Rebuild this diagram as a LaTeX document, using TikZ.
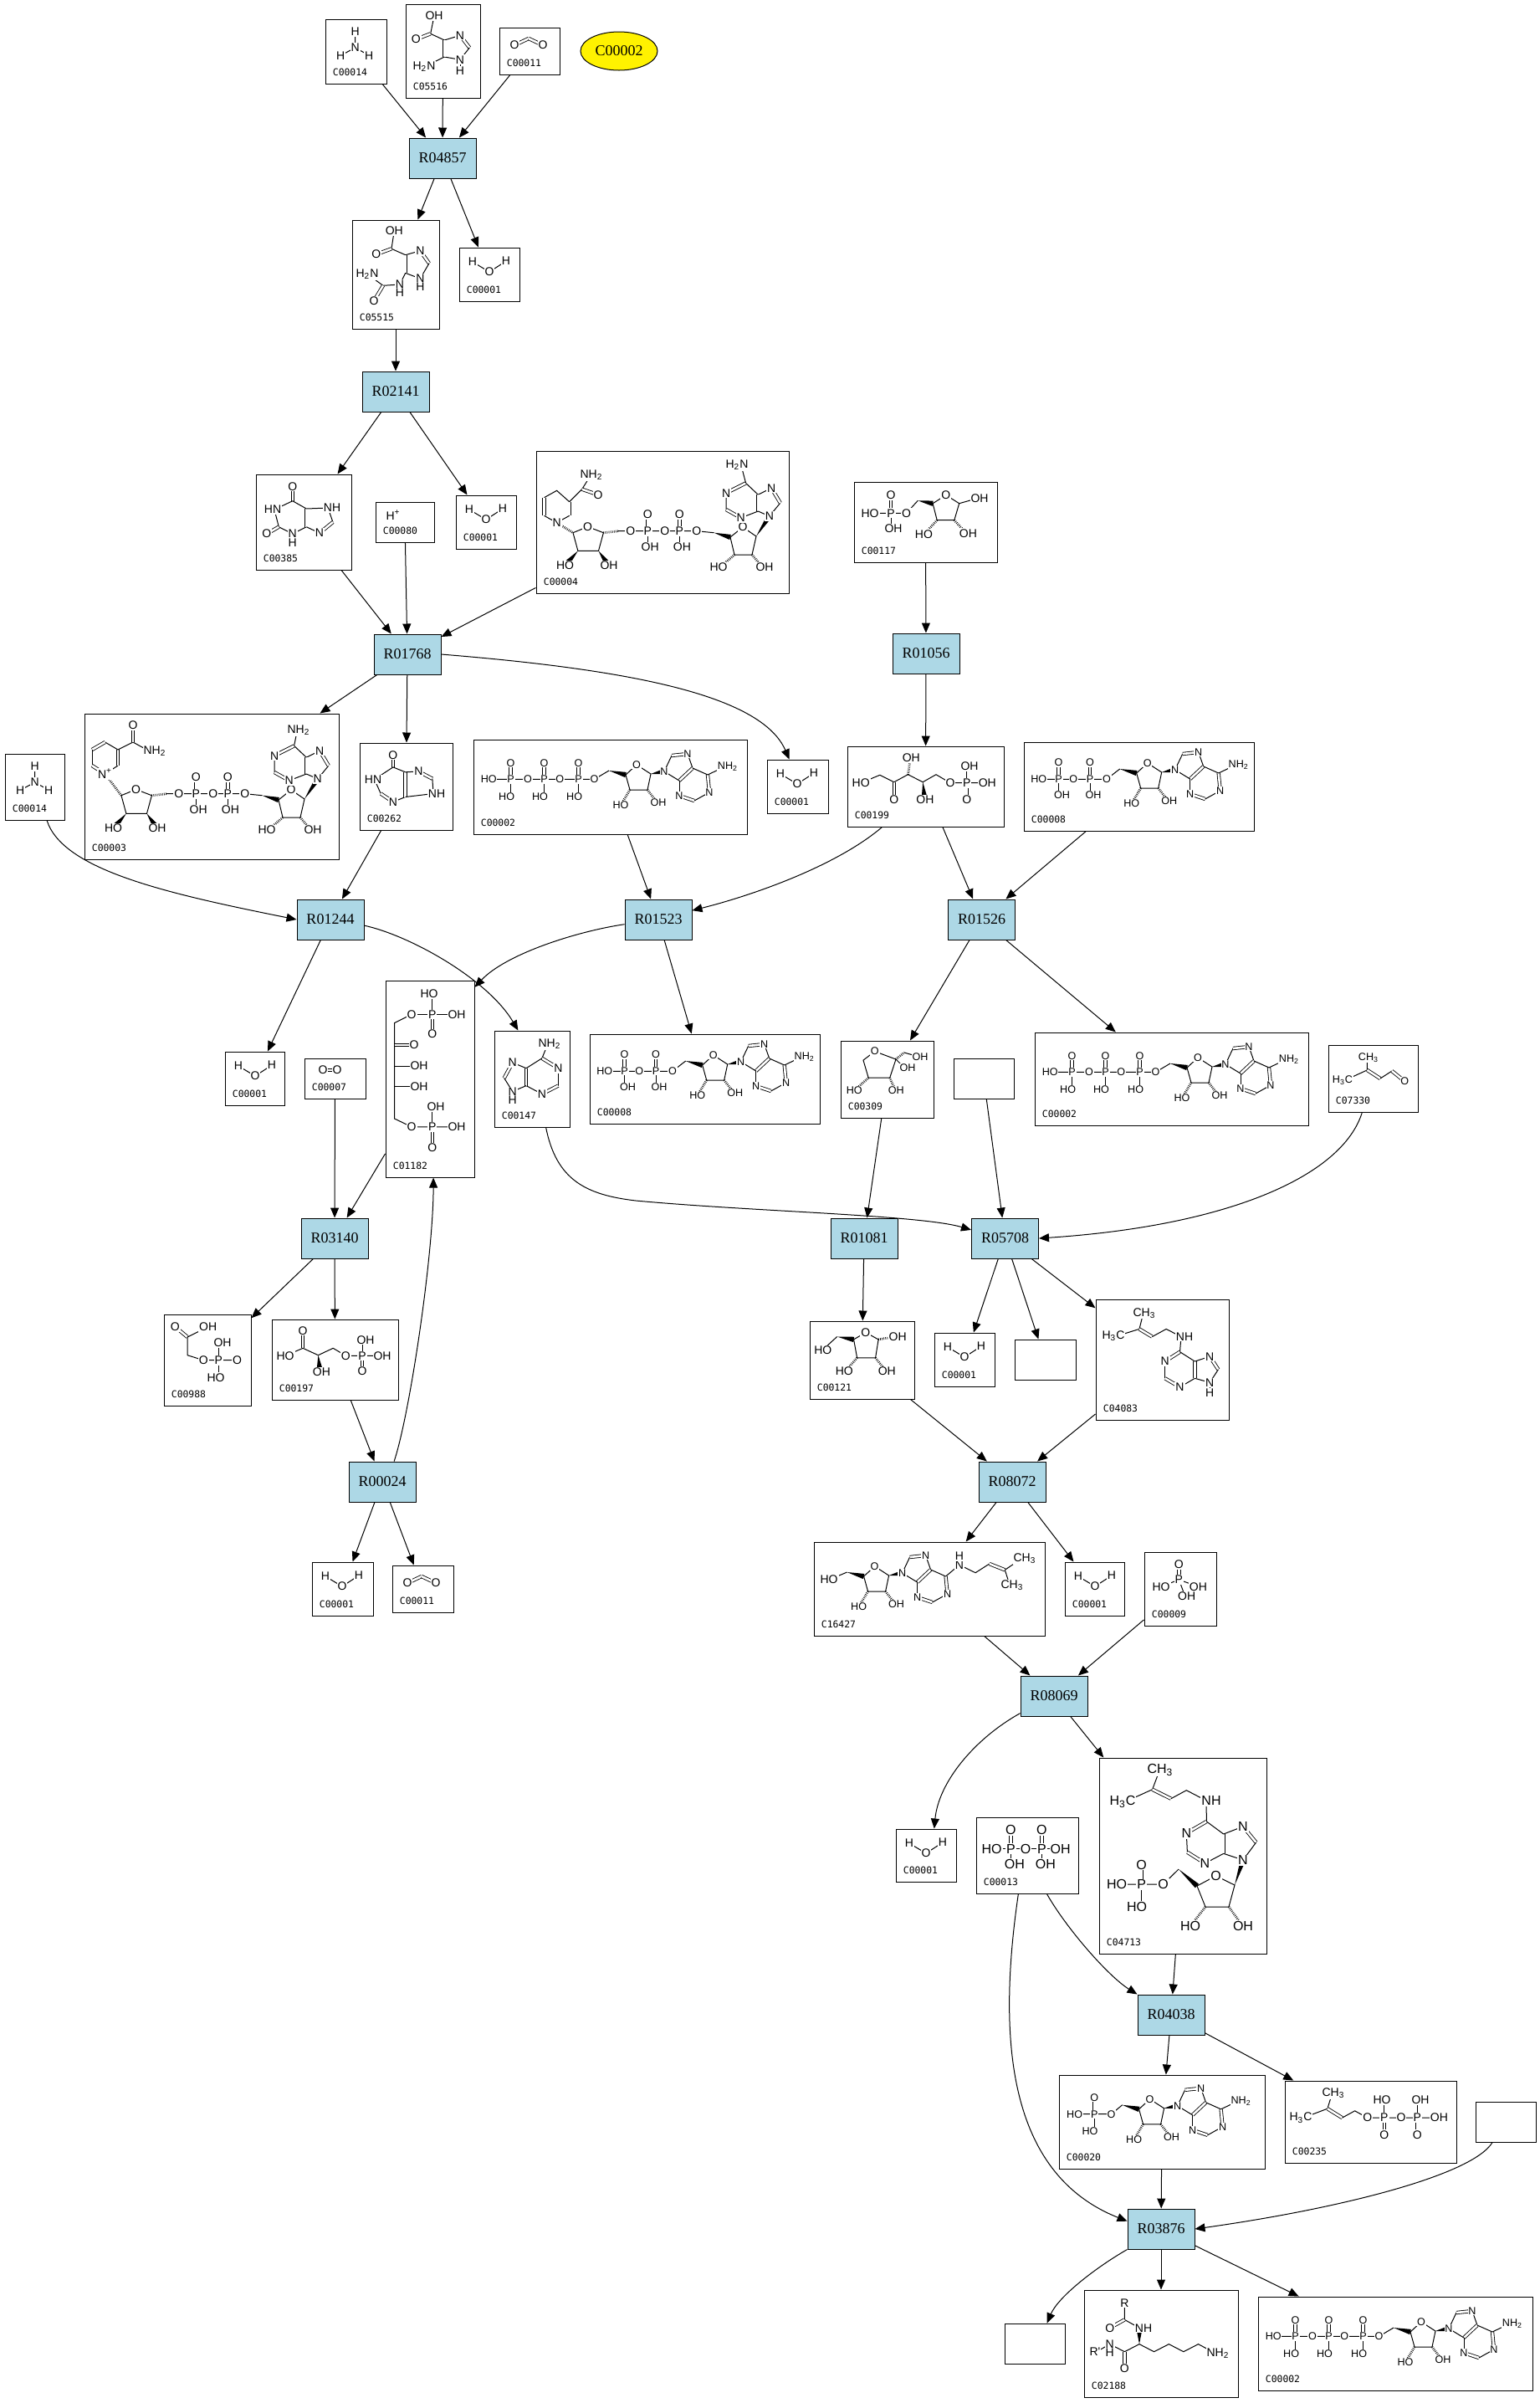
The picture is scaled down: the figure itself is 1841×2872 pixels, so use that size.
\documentclass[tikz,border=0pt]{standalone}
\usepackage{fontspec}
\setmainfont{Liberation Serif}
\newfontfamily\chemf{Liberation Sans}
\newfontfamily\monof{DejaVu Sans Mono}
\newfontfamily\serf{Liberation Serif}
\usetikzlibrary{arrows.meta,shapes.geometric,fit,calc}
\definecolor{rxnblue}{HTML}{ADD8E6}
\newcommand\afontL{\chemf\fontsize{7}{7}\selectfont}
\newcommand\afontS{\chemf\fontsize{6.3}{6.3}\selectfont}
\newcommand\afontB{\chemf\fontsize{8}{8}\selectfont}
\newcommand\idfont{\monof\fontsize{5.7}{5.7}\selectfont}
\newcommand\rfont{\serf\fontsize{9}{9}\selectfont}
\newcommand{\wdg}[2]{\fill ($(#1)$) -- ($(#2)!1.6pt!90:(#1)$) -- ($(#2)!1.6pt!-90:(#1)$) -- cycle;}
\newcommand{\cmp}[6]{\node[cbox, fit={(#2,#3) (#4,#5)}] (#1) {};\node[idl] at ([shift={(9,-10)}]#1.south west) {#6};}
\tikzset{
 cbox/.style={draw, line width=0.5pt, inner sep=0pt},
 rxn/.style={draw, line width=0.5pt, fill=rxnblue, minimum width=40pt, minimum height=24pt, inner sep=0pt, font=\rfont},
 idl/.style={font=\idfont, anchor=base west, inner sep=0pt},
 arr/.style={line width=0.5pt, -{Triangle[length=6pt,width=5pt]}},
 bd/.style={line width=0.5pt},
 db/.style={double, double distance=1.3pt, line width=0.42pt},
 hs/.style={line width=1.4pt, dash pattern=on 0.35pt off 0.7pt},
 atl/.style={font=\afontL, inner sep=0.5pt, fill=white},
 ats/.style={font=\afontS, inner sep=0.4pt, fill=white},
 atb/.style={font=\afontB, inner sep=0.5pt, fill=white},
}
\newcommand{\adocore}{%
  \wdg{0,0}{20,5}
  \draw[bd] (20,5) -- (33,-7) -- (50,4) -- (46,23) -- (25,23) -- cycle;
  \draw[hs] (25,23) -- (16,38);
  \draw[hs] (46,23) -- (56,36);
  \wdg{50,4}{66,1}
  \draw[bd] (66,1) -- (75,-18);
  \draw[db] (75,-18) -- (94,-20);
  \draw[bd] (94,-20) -- (100,-3);
  \draw[db] (100,-3) -- (84,12);
  \draw[bd] (84,12) -- (66,1);
  \draw[bd] (84,12) -- (84,30);
  \draw[db] (84,30) -- (102,36);
  \draw[bd] (102,36) -- (120,26);
  \draw[db] (120,26) -- (118,5);
  \draw[bd] (118,5) -- (100,-3);
  \node[ats] at (33,-7) {O};
  \node[ats] at (14,41) {HO};
  \node[ats] at (59,38) {OH};
  \node[ats] at (66,1) {N};
  \node[ats] at (94,-20) {N};
  \node[ats] at (84,30) {N};
  \node[ats] at (120,26) {N};
}
\tikzset{
 adoc/.pic={\adocore},
 ado/.pic={\adocore \draw[bd] (118,5) -- (137,-4); \node[ats] at (142,-5) {NH\textsubscript{2}};},
 water/.pic={\draw[bd] (16,17) -- (36,29) -- (56,16); \node[atl] at (16,17) {H}; \node[atl] at (36,29) {O}; \node[atl] at (56,16) {H};},
 ammonia/.pic={\draw[bd] (35.7,15) -- (35.7,34) -- (18.3,43.3); \draw[bd] (35.7,34) -- (52.3,43.3); \node[atl] at (35.7,15) {H}; \node[atl] at (35.7,34) {N}; \node[atl] at (18.3,43.3) {H}; \node[atl] at (52.3,43.3) {H};},
 cotwo/.pic={\draw[db] (18,21) -- (35,13); \draw[db] (35,13) -- (52,21); \node[atl] at (18,21) {O}; \node[atl] at (52,21) {O};},
 atp/.pic={
  \draw[bd] (18.2,47.4) -- (144.4,47.4) -- (162,37);
  \foreach \px in {44.6,84.5,125.6}{\draw[db] (\px,27.7) -- (\px,47.4); \draw[bd] (\px,47.4) -- (\px,64);
     \node[ats] at (\px,47.4) {P}; \node[ats] at (\px,27.7) {O}; \node[ats] at (\px-5,68) {HO};}
  \foreach \px in {65.1,103.3,144.4}{\node[ats] at (\px,47.4) {O};}
  \node[ats] at (18.2,47.4) {HO};
  \pic at (162,37) {ado};
 },
 adp/.pic={
  \draw[bd] (17.8,44.3) -- (98.9,44.3) -- (114.7,32);
  \foreach \px in {41.5,79.1}{\draw[db] (\px,24.3) -- (\px,44.3); \draw[bd] (\px,44.3) -- (\px,60);
     \node[ats] at (\px,44.3) {P}; \node[ats] at (\px,24.3) {O}; \node[ats] at (\px+4,63) {OH};}
  \foreach \px in {59.3,98.9}{\node[ats] at (\px,44.3) {O};}
  \node[ats] at (17.8,44.3) {HO};
  \pic at (114.7,32) {ado};
 },
 nadtail/.pic={
  \draw[bd] (44,97.7) -- (61.6,90.5) -- (80.4,97.7) -- (74.5,119.4) -- (49.9,119.4) -- cycle;
  \wdg{49.9,119.4}{38,133}
  \wdg{74.5,119.4}{84,133}
  \draw[hs] (80.4,97.7) -- (98,95.7);
  \draw[bd] (98,95.7) -- (191.9,95.7) -- (212.5,97.7);
  \foreach \px in {133.2,171.4}{\draw[db] (\px,75.9) -- (\px,95.7); \draw[bd] (\px,95.7) -- (\px,112);
     \node[atl] at (\px,95.7) {P}; \node[atl] at (\px,75.9) {O}; \node[atl] at (\px+3,115) {OH};}
  \foreach \px in {112.7,153.8,191.9}{\node[atl] at (\px,95.7) {O};}
  \node[atl] at (61.6,90.5) {O};
  \node[atl] at (34.6,137) {HO};
  \node[atl] at (87,137) {OH};
  \wdg{212.5,97.7}{232,103}
  \draw[bd] (232,103) -- (247,91) -- (263,102) -- (258,124) -- (237,124) -- cycle;
  \draw[hs] (237,124) -- (222,137);
  \draw[hs] (258,124) -- (269,137);
  \node[atl] at (247,91) {O};
  \node[atl] at (218,139) {HO};
  \node[atl] at (273,139) {OH};
  \wdg{263,102}{278.8,77.9}
  \draw[bd] (278.8,77.9) -- (291.8,62.1);
  \draw[db] (291.8,62.1) -- (281.2,44.3);
  \draw[bd] (281.2,44.3) -- (265.3,52.2);
  \draw[db] (265.3,52.2) -- (265.3,72);
  \draw[bd] (265.3,72) -- (278.8,77.9);
  \draw[bd] (265.3,72) -- (244.7,79.9);
  \draw[db] (244.7,79.9) -- (227,70);
  \draw[bd] (227,70) -- (227.1,50.2);
  \draw[db] (227.1,50.2) -- (250.6,38.4);
  \draw[bd] (250.6,38.4) -- (265.3,52.2);
  \node[atl] at (278.8,77.9) {N};
  \node[atl] at (281.2,44.3) {N};
  \node[atl] at (244.7,79.9) {N};
  \node[atl] at (227.1,50.2) {N};
 },
}
\begin{document}
\begin{tikzpicture}[x=0.5pt,y=-0.5pt]
\useasboundingbox (0,0) rectangle (1841,2872);
\fill[white] (0,0) rectangle (1841,2872);
% ---------- compound boxes ----------
\cmp{c14a}{389}{23}{462}{100}{C00014}
\cmp{c5516}{485}{5}{574}{117}{C05516}
\cmp{c11a}{597}{33}{669}{89}{C00011}
\cmp{c5515}{421}{263}{525}{393}{C05515}
\cmp{c1a}{549}{296}{621}{360}{C00001}
\cmp{c385}{306}{567}{420}{681}{C00385}
\cmp{c80}{449}{600}{519}{648}{C00080}
\cmp{c1b}{545}{592}{617}{656}{C00001}
\cmp{c4}{641}{539}{943}{709}{C00004}
\cmp{c117}{1021}{576}{1192}{672}{C00117}
\cmp{c14b}{6}{901}{77}{980}{C00014}
\cmp{c3a}{101}{853}{405}{1027}{C00003}
\cmp{c262}{430}{888}{541}{992}{C00262}
\cmp{c2a}{566}{884}{893}{997}{C00002}
\cmp{c1c}{917}{908}{990}{972}{C00001}
\cmp{c199}{1013}{892}{1200}{988}{C00199}
\cmp{c8b}{1224}{887}{1499}{993}{C00008}
\cmp{c1d}{269}{1257}{340}{1321}{C00001}
\cmp{c7}{364}{1265}{437}{1313}{C00007}
\cmp{c1182}{461}{1172}{567}{1407}{C01182}
\cmp{c147}{591}{1232}{681}{1347}{C00147}
\cmp{c8a}{705}{1236}{980}{1343}{C00008}
\cmp{c309}{1005}{1244}{1116}{1336}{C00309}
\cmp{e1}{1140}{1265}{1212}{1313}{}
\cmp{c2b}{1237}{1234}{1564}{1345}{C00002}
\cmp{c7330}{1588}{1249}{1695}{1329}{C07330}
\cmp{c988}{196}{1571}{300}{1680}{C00988}
\cmp{c197}{325}{1577}{476}{1673}{C00197}
\cmp{c121}{968}{1579}{1093}{1672}{C00121}
\cmp{c1e}{1117}{1593}{1189}{1657}{C00001}
\cmp{e2}{1213}{1601}{1286}{1649}{}
\cmp{c4083}{1310}{1553}{1469}{1697}{C04083}
\cmp{c1f}{373}{1867}{446}{1931}{C00001}
\cmp{c11b}{469}{1871}{542}{1927}{C00011}
\cmp{c16427}{973}{1843}{1249}{1955}{C16427}
\cmp{c1g}{1273}{1867}{1344}{1931}{C00001}
\cmp{c9}{1368}{1855}{1454}{1943}{C00009}
\cmp{c1h}{1071}{2186}{1143}{2249}{C00001}
\cmp{c13}{1167}{2172}{1289}{2263}{C00013}
\cmp{c4713}{1314}{2101}{1514}{2335}{C04713}
\cmp{c20}{1266}{2480}{1512}{2592}{C00020}
\cmp{c235}{1536}{2487}{1741}{2585}{C00235}
\cmp{e3}{1764}{2512}{1836}{2560}{}
\cmp{e4}{1201}{2777}{1273}{2825}{}
\cmp{c2188}{1296}{2737}{1480}{2865}{C02188}
\cmp{c2c}{1504}{2745}{1832}{2857}{C00002}
\node[draw, ellipse, fill=yellow, line width=0.5pt, minimum width=46pt, minimum height=23pt, inner sep=0pt, font=\rfont] (C00002) at (740,61) {C00002};
% ---------- reactions ----------
\node[rxn] (R04857) at (529,189) {R04857};
\node[rxn] (R02141) at (473,468) {R02141};
\node[rxn] (R01768) at (487,782) {R01768};
\node[rxn] (R01056) at (1107,781) {R01056};
\node[rxn] (R01244) at (395,1099) {R01244};
\node[rxn] (R01523) at (787,1099) {R01523};
\node[rxn] (R01526) at (1173.5,1099) {R01526};
\node[rxn] (R03140) at (400,1480) {R03140};
\node[rxn] (R01081) at (1033,1480) {R01081};
\node[rxn] (R05708) at (1201.5,1480) {R05708};
\node[rxn] (R00024) at (457,1771) {R00024};
\node[rxn] (R08072) at (1210,1771) {R08072};
\node[rxn] (R08069) at (1260,2027) {R08069};
\node[rxn] (R04038) at (1400,2408) {R04038};
\node[rxn] (R03876) at (1388,2664) {R03876};
% ---------- small molecules ----------
\foreach \wx/\wy in {549/296,545/592,917/908,269/1257,1117/1593,373/1867,1273/1867,1071/2186}{\pic at (\wx,\wy) {water};}
\pic at (389,23) {ammonia};
\pic at (6,901) {ammonia};
\pic at (597,33) {cotwo};
\pic at (469,1871) {cotwo};
\begin{scope}[shift={(364,1265)}]
 \draw[db] (24,14) -- (38,14);
 \node[atl] at (22,14) {O}; \node[atl] at (39,14) {O};
\end{scope}
\begin{scope}[shift={(449,600)}]
 \node[atl] at (21,16) {H\textsuperscript{+}};
\end{scope}
% ---------- C05516 ----------
\begin{scope}[shift={(485,5)}]
 \draw[bd] (34,14) -- (29.7,35.3);
 \draw[db] (29.7,35.3) -- (12.3,42);
 \draw[bd] (29.7,35.3) -- (46.3,43) -- (65,37.3);
 \draw[db] (65,37.3) -- (76.3,52);
 \draw[bd] (76.3,52) -- (65,66.3) -- (46.3,63);
 \draw[db] (46.3,63) -- (46.3,43);
 \draw[bd] (46.3,63) -- (26,73);
 \draw[bd] (65,66.3) -- (65,79.7);
 \node[atl] at (34,14) {OH}; \node[atl] at (12.3,42) {O};
 \node[atl] at (65,37.3) {N}; \node[atl] at (65,66.3) {N}; \node[atl] at (65,80) {H};
 \node[atl] at (22,75) {H\textsubscript{2}N};
\end{scope}
% ---------- C05515 ----------
\begin{scope}[shift={(421,263)}]
 \draw[bd] (50.3,12.7) -- (47,34.3);
 \draw[db] (47,34.3) -- (28.7,41);
 \draw[bd] (47,34.3) -- (63.7,41.7) -- (81.3,36.7);
 \draw[db] (81.3,36.7) -- (92,51.7);
 \draw[bd] (92,51.7) -- (81.3,70) -- (63.7,63.3);
 \draw[db] (63.7,63.3) -- (63.7,41.7);
 \draw[bd] (81.3,70) -- (81.3,79);
 \draw[bd] (63.7,63.3) -- (57,77) -- (37,78.3) -- (20,66);
 \draw[db] (37,78.3) -- (27,95);
 \node[atl] at (50.3,12.7) {OH}; \node[atl] at (28.7,41) {O};
 \node[atl] at (81.3,36.7) {N}; \node[atl] at (81.3,70) {N}; \node[atl] at (81.3,80) {H};
 \node[atl] at (57,77) {N}; \node[atl] at (57,87) {H};
 \node[atl] at (18,65) {H\textsubscript{2}N}; \node[atl] at (26,97) {O};
\end{scope}
% ---------- C00385 ----------
\begin{scope}[shift={(306,567)}]
 \draw[db] (43.8,14.3) -- (43.8,31.7);
 \draw[bd] (43.8,31.7) -- (22,42) -- (27.3,62.7) -- (43.8,71) -- (60.3,62.7);
 \draw[db] (27.3,62.7) -- (12.8,71);
 \draw[bd] (43.8,71) -- (43.8,81);
 \draw[db] (60.3,62.7) -- (60.3,41);
 \draw[bd] (60.3,41) -- (43.8,31.7);
 \draw[bd] (60.3,41) -- (86,40) -- (92,57);
 \draw[db] (92,57) -- (76,70);
 \draw[bd] (76,70) -- (60.3,62.7);
 \node[atl] at (43.8,14.3) {O}; \node[atl] at (20,42) {HN}; \node[atl] at (12.8,71) {O};
 \node[atl] at (43.8,71) {N}; \node[atl] at (43.8,82) {H}; \node[atl] at (91,40) {NH}; \node[atl] at (76,70) {N};
\end{scope}
% ---------- C00004 ----------
\begin{scope}[shift={(641,539)}]
 \pic at (0,0) {nadtail};
 \draw[db] (39.7,77.3) -- (39.7,60.7);
 \draw[bd] (39.7,60.7) -- (24.6,47.3) -- (9.5,55.7);
 \draw[db] (9.5,55.7) -- (9.5,77.3);
 \draw[bd] (9.5,77.3) -- (24.6,85.7) -- (39.7,77.3);
 \draw[bd] (39.7,60.7) -- (54.7,45.7) -- (64,31);
 \draw[db] (54.7,45.7) -- (74,52.3);
 \draw[hs] (24.6,85.7) -- (44,97.7);
 \draw[bd] (250.6,38.4) -- (246,21);
 \node[atl] at (24.6,85.7) {N};
 \node[atl] at (66,29) {NH\textsubscript{2}}; \node[atl] at (74,52.3) {O};
 \node[atl] at (240,17) {H\textsubscript{2}N};
\end{scope}
% ---------- C00003 ----------
\begin{scope}[shift={(101,853)}]
 \pic at (0,0) {nadtail};
 \draw[bd] (24.6,72) -- (40,62);
 \draw[db] (40,62) -- (40,43);
 \draw[bd] (40,43) -- (24.6,34);
 \draw[db] (24.6,34) -- (9,43);
 \draw[bd] (9,43) -- (9,62);
 \draw[db] (9,62) -- (24.6,72);
 \draw[bd] (40,43) -- (58,34) -- (78,45);
 \draw[db] (58,34) -- (58,16);
 \draw[hs] (24.6,72) -- (44,97.7);
 \draw[bd] (250.6,38.4) -- (253.5,24);
 \node[atl] at (24.6,72) {N\textsuperscript{+}};
 \node[atl] at (58,14) {O}; \node[atl] at (84,45) {NH\textsubscript{2}};
 \node[atl] at (256,20) {NH\textsubscript{2}};
\end{scope}
% ---------- C00262 ----------
\begin{scope}[shift={(430,888)}]
 \draw[db] (39.9,14.2) -- (39.9,28.9);
 \draw[bd] (39.9,28.9) -- (17.6,43.5) -- (25.2,60.5);
 \draw[db] (25.2,60.5) -- (39.9,70.4);
 \draw[bd] (39.9,70.4) -- (54.6,64.5);
 \draw[db] (54.6,64.5) -- (54.6,34.8);
 \draw[bd] (54.6,34.8) -- (39.9,28.9);
 \draw[bd] (54.6,34.8) -- (70.4,34);
 \draw[db] (70.4,34) -- (86.9,42.7);
 \draw[bd] (86.9,42.7) -- (88,60.5) -- (54.6,64.5);
 \node[atl] at (39.9,14.2) {O}; \node[atl] at (16,43.5) {HN}; \node[atl] at (39.9,70.4) {N};
 \node[atl] at (70.4,34) {N}; \node[atl] at (92,60.5) {NH};
\end{scope}
% ---------- C00117 ----------
\begin{scope}[shift={(1021,576)}]
 \draw[db] (44,15.7) -- (44,37.3);
 \draw[bd] (19,37.3) -- (62.5,37.3) -- (76.3,22.3);
 \draw[bd] (44,37.3) -- (44,54);
 \wdg{76.3,22.3}{94.1,25.7}
 \draw[bd] (94.1,25.7) -- (109.9,15.7) -- (125.7,25.7) -- (119.8,45.7) -- (99.2,45.7) -- cycle;
 \draw[bd] (125.7,25.7) -- (146,20);
 \draw[hs] (99.2,45.7) -- (86,60);
 \draw[hs] (119.8,45.7) -- (132,59);
 \node[atl] at (44,15.7) {O}; \node[atl] at (44,37.3) {P}; \node[atl] at (19,37.3) {HO};
 \node[atl] at (47,56) {OH}; \node[atl] at (62.5,37.3) {O}; \node[atl] at (109.9,15.7) {O};
 \node[atl] at (150,20) {OH}; \node[atl] at (83.4,62.3) {HO}; \node[atl] at (136.4,61.3) {OH};
\end{scope}
% ---------- C00199 ----------
\begin{scope}[shift={(1013,892)}]
 \draw[bd] (16.2,43.7) -- (38.8,34.3) -- (55.8,42.7) -- (72.4,33.7) -- (90.2,42.7) -- (106,33.7) -- (123,43.7) -- (167.3,43.7);
 \draw[db] (55.8,42.7) -- (55.8,63.7);
 \draw[hs] (72.4,33.7) -- (75,17);
 \wdg{90.2,42.7}{92,60}
 \draw[bd] (142.7,43.7) -- (142.7,26);
 \draw[db] (142.7,43.7) -- (142.7,63.7);
 \node[atl] at (16.2,43.7) {HO}; \node[atl] at (55.8,63.7) {O}; \node[atl] at (76.3,13.7) {OH};
 \node[atl] at (92.9,63.7) {OH}; \node[atl] at (123,43.7) {O}; \node[atl] at (142.7,43.7) {P};
 \node[atl] at (146,23.7) {OH}; \node[atl] at (167.3,43.7) {OH}; \node[atl] at (142.7,63.7) {O};
\end{scope}
% ---------- ATP / ADP / AMP ----------
\pic at (566,884) {atp};
\pic at (1237,1234) {atp};
\pic at (1504,2745) {atp};
\pic at (1224,887) {adp};
\pic at (705,1236) {adp};
\begin{scope}[shift={(1266,2480)}]
 \draw[bd] (18.6,46.7) -- (62.5,46.7) -- (75.6,35.8);
 \draw[db] (42.3,27) -- (42.3,46.7);
 \draw[bd] (42.3,46.7) -- (42.3,64);
 \node[ats] at (18.6,46.7) {HO}; \node[ats] at (42.3,46.7) {P}; \node[ats] at (42.3,27) {O};
 \node[ats] at (37,67) {HO}; \node[ats] at (62.5,46.7) {O};
 \pic at (75.6,35.8) {ado};
\end{scope}
% ---------- C01182 ----------
\begin{scope}[shift={(461,1172)}]
 \draw[bd] (55.8,18) -- (55.8,40.3);
 \draw[bd] (31.1,40.3) -- (85.1,40.3);
 \draw[db] (55.8,40.3) -- (55.8,64.1);
 \draw[bd] (31.1,40.3) -- (10.6,50.6) -- (10.6,165) -- (31.1,174.8) -- (85.1,174.8);
 \draw[db] (10.6,77.1) -- (34,77.1);
 \draw[bd] (10.6,102) -- (36,102);
 \draw[bd] (10.6,126.5) -- (36,126.5);
 \draw[bd] (55.8,153) -- (55.8,174.8);
 \draw[db] (55.8,174.8) -- (55.8,199.7);
 \node[atl] at (52,16) {HO}; \node[atl] at (55.8,40.3) {P}; \node[atl] at (31.1,40.3) {O};
 \node[atl] at (85.1,40.3) {OH}; \node[atl] at (55.8,64.1) {O}; \node[atl] at (34,77.1) {O};
 \node[atl] at (40,102) {OH}; \node[atl] at (40,126.5) {OH}; \node[atl] at (31.1,174.8) {O};
 \node[atl] at (55.8,174.8) {P}; \node[atl] at (60,151) {OH}; \node[atl] at (85.1,174.8) {OH};
 \node[atl] at (55.8,199.7) {O};
\end{scope}
% ---------- C00147 ----------
\begin{scope}[shift={(591,1232)}]
 \draw[bd] (63,18) -- (56.9,32.8);
 \draw[db] (56.9,32.8) -- (76.3,44.7);
 \draw[bd] (76.3,44.7) -- (76.3,65.6);
 \draw[db] (76.3,65.6) -- (56.9,75.5);
 \draw[bd] (56.9,75.5) -- (38.1,65.6);
 \draw[db] (38.1,65.6) -- (38.1,44.7);
 \draw[bd] (38.1,44.7) -- (56.9,32.8);
 \draw[bd] (38.1,44.7) -- (21.7,38);
 \draw[db] (21.7,38) -- (11.7,56.5);
 \draw[bd] (11.7,56.5) -- (21.7,72.4) -- (38.1,65.6);
 \draw[bd] (21.7,72.4) -- (21.7,82);
 \node[atl] at (66,15.8) {NH\textsubscript{2}}; \node[atl] at (76.3,44.7) {N}; \node[atl] at (56.9,75.5) {N};
 \node[atl] at (21.7,38) {N}; \node[atl] at (21.7,72.4) {N}; \node[atl] at (21.7,83) {H};
\end{scope}
% ---------- C00309 ----------
\begin{scope}[shift={(1005,1244)}]
 \draw[bd] (40.8,12.6) -- (66,22) -- (58.7,44.2) -- (33.2,44.2) -- (27,23.1) -- cycle;
 \draw[hs] (66,22) -- (76,14);
 \draw[bd] (76,14) -- (90,18);
 \draw[bd] (66,22) -- (76,32);
 \draw[hs] (58.7,44.2) -- (64,56);
 \draw[hs] (33.2,44.2) -- (20,56);
 \node[ats] at (40.8,12.6) {O}; \node[ats] at (95,18.9) {OH}; \node[ats] at (80,32.4) {OH};
 \node[ats] at (16.3,58.9) {HO}; \node[ats] at (66.3,58.9) {OH};
\end{scope}
% ---------- C07330 ----------
\begin{scope}[shift={(1588,1249)}]
 \draw[bd] (46.4,17) -- (46.4,29.9) -- (20,42);
 \draw[db] (46.4,29.9) -- (62,40);
 \draw[bd] (62,40) -- (76,31);
 \draw[db] (76,31) -- (91.3,43.4);
 \node[ats] at (48,15.2) {CH\textsubscript{3}}; \node[ats] at (17,42.5) {H\textsubscript{3}C}; \node[ats] at (91.3,43.4) {O};
\end{scope}
% ---------- C00988 ----------
\begin{scope}[shift={(196,1571)}]
 \draw[db] (13.4,14.7) -- (28.1,27);
 \draw[bd] (52.7,14.7) -- (28.1,27) -- (28.1,48.7) -- (47.3,54.7) -- (87.5,54.7);
 \draw[bd] (65.2,36) -- (65.2,72);
 \node[atl] at (13.4,14.7) {O}; \node[atl] at (52.7,14.7) {OH}; \node[atl] at (47.3,54.7) {O};
 \node[atl] at (65.2,54.7) {P}; \node[atl] at (70,33.7) {OH}; \node[atl] at (87.5,54.7) {O};
 \node[atl] at (62,75.3) {HO};
\end{scope}
% ---------- C00197 ----------
\begin{scope}[shift={(325,1577)}]
 \draw[db] (37.1,13.3) -- (37.1,34.3);
 \draw[bd] (16.1,43.3) -- (37.1,34.3) -- (55.4,42.7) -- (73.2,34.3) -- (88.4,43.3) -- (132.1,43.3);
 \wdg{55.4,42.7}{57,58}
 \draw[bd] (108,43.3) -- (108,26);
 \draw[db] (108,43.3) -- (108,62);
 \node[atl] at (37.1,13.3) {O}; \node[atl] at (16.1,43.3) {HO}; \node[atl] at (59.4,62.7) {OH};
 \node[atl] at (88.4,43.3) {O}; \node[atl] at (108,43.3) {P}; \node[atl] at (112,24.3) {OH};
 \node[atl] at (132.1,43.3) {OH}; \node[atl] at (108,62) {O};
\end{scope}
% ---------- C00121 ----------
\begin{scope}[shift={(968,1579)}]
 \draw[bd] (52.6,21.9) -- (66.8,13.5) -- (82.1,21.9) -- (78.6,43.8) -- (56.6,43.8) -- cycle;
 \draw[hs] (82.1,21.9) -- (100,19);
 \draw[hs] (78.6,43.8) -- (89,57);
 \draw[hs] (56.6,43.8) -- (45,57);
 \wdg{32.7,18.5}{52.6,21.9}
 \draw[bd] (32.7,18.5) -- (18,32);
 \node[atl] at (66.8,13.5) {O}; \node[atl] at (105.1,18.9) {OH}; \node[atl] at (92.3,59.8) {OH};
 \node[atl] at (41.3,59.8) {HO}; \node[atl] at (15.8,34.5) {HO};
\end{scope}
% ---------- C04083 ----------
\begin{scope}[shift={(1310,1553)}]
 \draw[bd] (56.1,19) -- (52,35.4) -- (25,43.8);
 \draw[db] (52,35.4) -- (67.3,44.6);
 \draw[bd] (67.3,44.6) -- (84.2,35.4) -- (102,44.6) -- (100.5,62.7);
 \draw[db] (100.5,62.7) -- (82.7,74.1);
 \draw[bd] (82.7,74.1) -- (82.7,94.3);
 \draw[db] (82.7,94.3) -- (100.5,104.8);
 \draw[bd] (100.5,104.8) -- (118.4,94.3);
 \draw[db] (118.4,94.3) -- (118.4,74.1);
 \draw[bd] (118.4,74.1) -- (100.5,62.7);
 \draw[bd] (118.4,74.1) -- (136.2,68.2);
 \draw[db] (136.2,68.2) -- (146.4,83.8);
 \draw[bd] (146.4,83.8) -- (136.2,99.3) -- (118.4,94.3);
 \draw[bd] (136.2,99.3) -- (136.2,111);
 \node[atl] at (58,16.4) {CH\textsubscript{3}}; \node[atl] at (21,43.8) {H\textsubscript{3}C}; \node[atl] at (106,44.6) {NH};
 \node[atl] at (82.7,74.1) {N}; \node[atl] at (100.5,104.8) {N}; \node[atl] at (136.2,68.2) {N};
 \node[atl] at (136.2,99.3) {N}; \node[atl] at (136.2,112) {H};
\end{scope}
% ---------- C16427 ----------
\begin{scope}[shift={(973,1843)}]
 \draw[bd] (18.1,45) -- (39.6,36);
 \pic at (39.6,36) {adoc};
 \draw[bd] (157.6,41) -- (173.9,27.3) -- (193.1,36.7) -- (209.8,26);
 \draw[db] (209.8,26) -- (228.3,33.3);
 \draw[bd] (228.3,33.3) -- (245,22);
 \draw[bd] (228.3,33.3) -- (233,48);
 \draw[bd] (173.9,27.3) -- (173.9,17);
 \node[atl] at (18.1,45) {HO}; \node[atl] at (173.9,27.3) {N}; \node[atl] at (173.9,16.7) {H};
 \node[atl] at (252,20) {CH\textsubscript{3}}; \node[atl] at (237,51.7) {CH\textsubscript{3}};
\end{scope}
% ---------- C00009 ----------
\begin{scope}[shift={(1368,1855)}]
 \draw[db] (41.4,14.7) -- (41.4,33);
 \draw[bd] (20,41.3) -- (41.4,33) -- (64.4,41.3);
 \draw[bd] (41.4,33) -- (48,51);
 \node[atl] at (41.4,14.7) {O}; \node[atl] at (41.4,33) {P}; \node[atl] at (20,41.3) {HO};
 \node[atl] at (64.4,41.3) {OH}; \node[atl] at (50.7,53) {OH};
\end{scope}
% ---------- C00013 ----------
\begin{scope}[shift={(1167,2172)}]
 \draw[db] (41.4,15) -- (41.4,37.7);
 \draw[db] (78.4,15) -- (78.4,37.7);
 \draw[bd] (18.5,37.7) -- (100.6,37.7);
 \draw[bd] (41.4,37.7) -- (41.4,54);
 \draw[bd] (78.4,37.7) -- (78.4,54);
 \node[atb] at (41.4,15) {O}; \node[atb] at (78.4,15) {O}; \node[atb] at (18.5,37.7) {HO};
 \node[atb] at (41.4,37.7) {P}; \node[atb] at (59.2,37.7) {O}; \node[atb] at (78.4,37.7) {P};
 \node[atb] at (100.6,37.7) {OH}; \node[atb] at (45.9,56) {OH}; \node[atb] at (82.9,56) {OH};
\end{scope}
% ---------- C04713 ----------
\begin{scope}[shift={(1314,2101)}]
 \draw[bd] (71,18) -- (63.6,37.7) -- (32,52);
 \draw[db] (63.6,37.7) -- (85.8,48.7);
 \draw[bd] (85.8,48.7) -- (104.3,38.7) -- (128,51) -- (128.4,76);
 \draw[db] (128.4,76) -- (104.3,90);
 \draw[bd] (104.3,90) -- (105.4,112.7);
 \draw[db] (105.4,112.7) -- (126.5,126);
 \draw[bd] (126.5,126) -- (148.7,114.3);
 \draw[db] (148.7,114.3) -- (148.7,91);
 \draw[bd] (148.7,91) -- (128.4,76);
 \draw[bd] (148.7,91) -- (172,82);
 \draw[db] (172,82) -- (187.6,101);
 \draw[bd] (187.6,101) -- (172,122) -- (148.7,114.3);
 \wdg{162,152}{172,122}
 \draw[bd] (117,153) -- (139.5,141) -- (162,152) -- (155,178) -- (127,178) -- cycle;
 \wdg{95,133}{117,153}
 \draw[bd] (95,133) -- (76.6,151) -- (21.1,151);
 \draw[db] (50.7,151) -- (50.7,127.7);
 \draw[bd] (50.7,151) -- (50.7,172);
 \draw[hs] (127,178) -- (113,196);
 \draw[hs] (155,178) -- (168,196);
 \node[atb] at (73,14.3) {CH\textsubscript{3}}; \node[atb] at (28,52.7) {H\textsubscript{3}C}; \node[atb] at (134,51) {NH};
 \node[atb] at (104.3,90) {N}; \node[atb] at (126.5,126) {N}; \node[atb] at (172,82) {N}; \node[atb] at (172,122) {N};
 \node[atb] at (139.5,141) {O}; \node[atb] at (76.6,151) {O}; \node[atb] at (50.7,151) {P}; \node[atb] at (50.7,127.7) {O};
 \node[atb] at (21.1,151) {HO}; \node[atb] at (45.1,177.7) {HO}; \node[atb] at (109,201) {HO}; \node[atb] at (172,201) {OH};
\end{scope}
% ---------- C00235 ----------
\begin{scope}[shift={(1536,2487)}]
 \draw[bd] (55.9,17) -- (50.9,33.2) -- (22,44.1);
 \draw[db] (50.9,33.2) -- (68.5,44.1);
 \draw[bd] (68.5,44.1) -- (83.6,35.8) -- (98.7,44.1) -- (184.4,44.1);
 \draw[bd] (118.9,44.1) -- (118.9,25);
 \draw[db] (118.9,44.1) -- (118.9,64.2);
 \draw[bd] (158.2,44.1) -- (158.2,25);
 \draw[db] (158.2,44.1) -- (158.2,64.2);
 \node[atl] at (58,15) {CH\textsubscript{3}}; \node[atl] at (19,44.1) {H\textsubscript{3}C}; \node[atl] at (98.7,44.1) {O};
 \node[atl] at (118.9,44.1) {P}; \node[atl] at (116,23) {HO}; \node[atl] at (118.9,64.2) {O};
 \node[atl] at (139,44.1) {O}; \node[atl] at (158.2,44.1) {P}; \node[atl] at (162,23) {OH};
 \node[atl] at (184.4,44.1) {OH}; \node[atl] at (158.2,64.2) {O};
\end{scope}
% ---------- C02188 ----------
\begin{scope}[shift={(1296,2737)}]
 \draw[bd] (48.4,17) -- (48.4,35.4) -- (66,45.2);
 \draw[db] (48.4,35.4) -- (30.7,45.2);
 \wdg{66,64.6}{66,48}
 \draw[bd] (66,64.6) -- (48.4,73.7) -- (30.7,64.6) -- (15,73.7);
 \draw[db] (48.4,73.7) -- (48.4,93.8);
 \draw[bd] (66,64.6) -- (83.6,73.7) -- (101.3,64.6) -- (118.9,73.7) -- (136.5,64.6) -- (154,74);
 \node[atl] at (48.4,15.3) {R}; \node[atl] at (30.7,45.2) {O}; \node[atl] at (71,45.2) {NH};
 \node[atl] at (30.7,64.6) {N}; \node[atl] at (30.7,75) {H}; \node[atl] at (13,73.7) {R'};
 \node[atl] at (48.4,93.8) {O}; \node[atl] at (160,75.5) {NH\textsubscript{2}};
\end{scope}
% ---------- edges ----------
\draw[arr] (c14a) -- (R04857);
\draw[arr] (c5516) -- (R04857);
\draw[arr] (c11a) -- (R04857);
\draw[arr] (R04857) -- (c5515);
\draw[arr] (R04857) -- (c1a);
\draw[arr] (c5515) -- (R02141);
\draw[arr] (R02141) -- (c385);
\draw[arr] (R02141) -- (c1b);
\draw[arr] (c385) -- (R01768);
\draw[arr] (c80) -- (R01768);
\draw[arr] (c4) -- (R01768);
\draw[arr] (R01768) -- (c3a);
\draw[arr] (R01768) -- (c262);
\draw[arr] (R01768.east) .. controls (750,800) and (910,830) .. (c1c.107);
\draw[arr] (c117) -- (R01056);
\draw[arr] (R01056) -- (c199);
\draw[arr] (c14b.-70) .. controls (75,1040) and (200,1068) .. (R01244.west);
\draw[arr] (c262) -- (R01244);
\draw[arr] (c2a) -- (R01523);
\draw[arr] (c199.-137) .. controls (1000,1035) and (900,1070) .. (R01523.15);
\draw[arr] (c199) -- (R01526);
\draw[arr] (c8b) -- (R01526);
\draw[arr] (R01244) -- (c1d);
\draw[arr] (R01244.-10) .. controls (490,1118) and (583,1170) .. (c147.106);
\draw[arr] (R01523.188) .. controls (690,1113) and (605,1140) .. (c1182.64);
\draw[arr] (R01523) -- (c8a);
\draw[arr] (R01526) -- (c309);
\draw[arr] (R01526) -- (c2b);
\draw[arr] (c7) -- (R03140);
\draw[arr] (c1182) -- (R03140);
\draw[arr] (c147.-74) .. controls (665,1410) and (700,1428) .. (760,1435) .. controls (900,1448) and (1100,1452) .. (R05708.166);
\draw[arr] (c309) -- (R01081);
\draw[arr] (e1) -- (R05708);
\draw[arr] (c7330.-108) .. controls (1605,1405) and (1470,1465) .. (R05708.east);
\draw[arr] (R03140) -- (c988);
\draw[arr] (R03140) -- (c197);
\draw[arr] (R01081) -- (c121);
\draw[arr] (R05708) -- (c1e);
\draw[arr] (R05708) -- (e2);
\draw[arr] (R05708) -- (c4083);
\draw[arr] (c197) -- (R00024);
\draw[arr] (R00024.60) .. controls (490,1690) and (518,1500) .. (c1182.-88);
\draw[arr] (R00024) -- (c1f);
\draw[arr] (R00024) -- (c11b);
\draw[arr] (c121) -- (R08072);
\draw[arr] (c4083) -- (R08072);
\draw[arr] (R08072) -- (c16427);
\draw[arr] (R08072) -- (c1g);
\draw[arr] (c16427) -- (R08069);
\draw[arr] (c9) -- (R08069);
\draw[arr] (R08069.-153) .. controls (1165,2078) and (1122,2130) .. (c1h.73);
\draw[arr] (R08069) -- (c4713);
\draw[arr] (c4713) -- (R04038);
\draw[arr] (c13.-63) .. controls (1275,2305) and (1325,2362) .. (R04038.north west);
\draw[arr] (c13.-103) .. controls (1190,2450) and (1210,2600) .. (R03876.167);
\draw[arr] (R04038) -- (c20);
\draw[arr] (R04038) -- (c235);
\draw[arr] (c20) -- (R03876);
\draw[arr] (e3.-123) .. controls (1760,2600) and (1600,2640) .. (R03876.east);
\draw[arr] (R03876.south west) .. controls (1310,2710) and (1265,2745) .. (e4.59);
\draw[arr] (R03876) -- (c2188);
\draw[arr] (R03876) -- (c2c);
\end{tikzpicture}
\end{document}
